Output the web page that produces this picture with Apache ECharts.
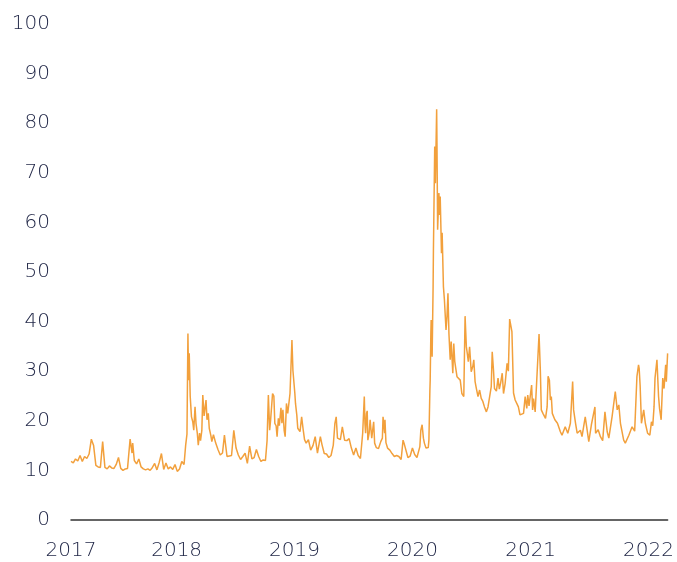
<!DOCTYPE html>
<html>
<head>
<meta charset="utf-8">
<script src="https://cdn.jsdelivr.net/npm/echarts@6/dist/echarts.min.js"></script>
<style>
html,body{margin:0;padding:0;background:#fff;}
#chart{width:677px;height:562px;}
</style>
</head>
<body>
<div id="chart"></div>
<script>
// ---- Data (VIX index) ----
const dates2017 = [
'2017-02-08','2017-02-15','2017-02-22','2017-03-01','2017-03-08','2017-03-15','2017-03-22','2017-03-29',
'2017-04-05','2017-04-12','2017-04-19','2017-04-26','2017-05-03','2017-05-10','2017-05-17','2017-05-24','2017-05-31',
'2017-06-07','2017-06-14','2017-06-21','2017-06-28','2017-07-05','2017-07-12','2017-07-19','2017-07-26',
'2017-08-02','2017-08-10','2017-08-16','2017-08-18','2017-08-23','2017-08-30',
'2017-09-06','2017-09-13','2017-09-20','2017-09-27','2017-10-04','2017-10-11','2017-10-18','2017-10-25',
'2017-11-01','2017-11-08','2017-11-15','2017-11-22','2017-11-29','2017-12-06','2017-12-13','2017-12-20','2017-12-27'];
const vix2017 = [
11.8,11.5,12.3,11.9,13.0,11.8,12.8,12.4,
13.3,16.3,15.0,11.0,10.7,10.6,15.8,10.6,10.3,
10.9,10.5,10.4,11.2,12.6,10.4,10.0,10.3,
10.4,16.3,13.5,15.5,12.0,11.3,
12.3,10.7,10.3,10.1,10.3,10.0,10.6,11.4,
10.1,11.6,13.4,10.2,11.5,10.3,10.7,10.2,11.2];

const dates2018 = [
'2018-01-03','2018-01-10','2018-01-17','2018-01-24','2018-01-29','2018-02-02','2018-02-05','2018-02-07','2018-02-09','2018-02-12','2018-02-16','2018-02-20','2018-02-23','2018-02-27',
'2018-03-02','2018-03-06','2018-03-09','2018-03-13','2018-03-16','2018-03-20','2018-03-23','2018-03-27','2018-04-02','2018-04-05','2018-04-09','2018-04-12','2018-04-17','2018-04-20','2018-04-25',
'2018-05-02','2018-05-09','2018-05-16','2018-05-23','2018-05-29','2018-06-06','2018-06-13','2018-06-20','2018-06-27','2018-07-04','2018-07-11','2018-07-18','2018-07-25',
'2018-08-01','2018-08-08','2018-08-15','2018-08-22','2018-08-29','2018-09-05','2018-09-12','2018-09-19','2018-09-26','2018-10-03','2018-10-08','2018-10-12','2018-10-16','2018-10-19','2018-10-25','2018-10-29',
'2018-11-01','2018-11-05','2018-11-08','2018-11-12','2018-11-15','2018-11-20','2018-11-23','2018-11-26','2018-11-30','2018-12-03','2018-12-07','2018-12-11','2018-12-14','2018-12-18','2018-12-24','2018-12-27'];
const vix2018 = [
9.8,10.3,11.8,11.2,15.1,17.3,37.6,28.2,33.6,25.0,20.8,19.8,18.1,22.8,
19.5,17.5,15.1,17.5,16.0,18.0,25.2,21.0,24.2,20.2,21.5,18.5,17.0,15.8,17.2,
15.5,14.2,13.1,13.5,17.1,12.8,12.9,13.0,18.1,14.5,13.1,12.2,12.8,
13.5,11.4,14.9,12.3,12.6,14.2,12.8,11.8,12.1,12.0,16.0,25.2,18.1,20.2,25.5,25.0,
19.5,19.0,16.8,20.5,19.0,22.6,19.5,22.2,18.0,16.8,23.5,21.5,21.6,25.5,36.3,30.2];

const dates2019 = [
'2019-01-02','2019-01-04','2019-01-08','2019-01-11','2019-01-15','2019-01-18','2019-01-23','2019-01-28','2019-02-01','2019-02-06','2019-02-13','2019-02-20','2019-02-27',
'2019-03-06','2019-03-13','2019-03-22','2019-03-27','2019-04-03','2019-04-10','2019-04-17','2019-04-24','2019-05-01','2019-05-06','2019-05-10','2019-05-14','2019-05-17','2019-05-23','2019-05-29',
'2019-06-05','2019-06-12','2019-06-19','2019-06-26','2019-07-03','2019-07-10','2019-07-17','2019-07-24','2019-07-31','2019-08-05','2019-08-07','2019-08-09','2019-08-12','2019-08-14','2019-08-16','2019-08-20','2019-08-23','2019-08-28',
'2019-09-03','2019-09-06','2019-09-11','2019-09-18','2019-09-25','2019-09-30','2019-10-02','2019-10-07','2019-10-08','2019-10-11','2019-10-16','2019-10-23','2019-10-30',
'2019-11-06','2019-11-13','2019-11-20','2019-11-27','2019-12-03','2019-12-06','2019-12-11','2019-12-18','2019-12-25'];
const vix2019 = [
25.5,23.5,21.2,18.5,18.8,17.8,20.8,18.1,16.2,15.5,16.2,14.1,15.0,
16.8,13.5,16.8,15.2,13.4,13.3,12.6,13.0,15.1,19.5,20.8,16.5,16.8,16.2,18.8,
16.1,16.0,16.4,14.5,13.1,14.5,13.0,12.4,17.5,24.9,19.5,17.5,21.5,22.0,16.1,17.5,20.2,16.5,
19.8,15.5,14.6,14.4,15.8,16.5,20.8,17.5,20.2,15.6,14.5,14.1,13.4,
12.8,13.0,12.8,12.2,16.1,15.5,15.3,12.6,12.9];

const dates2020 = [
'2020-01-01','2020-01-03','2020-01-08','2020-01-15','2020-01-21','2020-01-24','2020-01-27','2020-01-31','2020-02-04','2020-02-07','2020-02-12','2020-02-14','2020-02-19','2020-02-21',
'2020-02-24','2020-02-25','2020-02-27','2020-02-28','2020-03-02','2020-03-05','2020-03-06','2020-03-10','2020-03-12','2020-03-16','2020-03-17','2020-03-19','2020-03-23','2020-03-25','2020-03-27','2020-03-31',
'2020-04-02','2020-04-06','2020-04-09','2020-04-14','2020-04-17','2020-04-20','2020-04-23','2020-04-27','2020-04-30','2020-05-05','2020-05-08','2020-05-11','2020-05-15','2020-05-18','2020-05-22','2020-05-28',
'2020-06-02','2020-06-08','2020-06-12','2020-06-16','2020-06-19','2020-06-22','2020-06-26','2020-07-01','2020-07-06','2020-07-09','2020-07-13','2020-07-17','2020-07-22','2020-07-27',
'2020-08-01','2020-08-06','2020-08-11','2020-08-17','2020-08-22','2020-08-27','2020-09-01','2020-09-04','2020-09-08','2020-09-11','2020-09-17','2020-09-22','2020-09-26','2020-09-30',
'2020-10-05','2020-10-09','2020-10-14','2020-10-20','2020-10-24','2020-10-28','2020-11-04','2020-11-09','2020-11-14','2020-11-19','2020-11-24','2020-11-29','2020-12-04','2020-12-10','2020-12-15','2020-12-20','2020-12-23','2020-12-27'];
const vix2020 = [
14.5,14.8,13.2,12.6,12.4,14.8,18.1,19.2,16.5,15.5,14.5,14.1,14.6,16.1,
26.0,28.2,37.5,40.3,32.9,47.0,54.4,75.3,67.9,82.8,76.0,58.5,65.9,61.5,65.2,53.8,
57.9,47.0,44.4,38.3,41.0,45.7,37.6,32.3,36.0,29.6,35.6,32.0,32.3,28.9,28.5,28.2,
25.5,24.9,41.1,34.9,33.5,31.9,34.9,29.9,31.0,32.3,27.9,26.5,24.9,26.2,
24.5,23.9,22.8,21.8,22.8,22.8,26.9,33.9,30.2,26.5,26.0,28.6,26.4,27.6,
29.6,25.5,27.5,31.6,30.0,40.5,38.0,25.6,24.2,23.5,22.8,21.2,21.0,21.5,24.9,22.5,25.2,23.0];

const dates2021 = [
'2021-01-04','2021-01-07','2021-01-10','2021-01-15','2021-01-21','2021-01-27','2021-01-31','2021-02-03','2021-02-08','2021-02-16','2021-02-21','2021-02-24','2021-02-28',
'2021-03-03','2021-03-06','2021-03-09','2021-03-17','2021-03-25','2021-04-03','2021-04-08','2021-04-18','2021-04-26','2021-05-04','2021-05-11','2021-05-14','2021-05-20','2021-05-25',
'2021-06-04','2021-06-09','2021-06-19','2021-06-30','2021-07-08','2021-07-19','2021-07-21','2021-07-29','2021-08-05','2021-08-12','2021-08-19','2021-08-26','2021-08-31',
'2021-09-10','2021-09-20','2021-09-26','2021-10-01','2021-10-06','2021-10-16','2021-10-21','2021-11-01','2021-11-11','2021-11-19','2021-11-26','2021-12-01','2021-12-03','2021-12-06','2021-12-10','2021-12-17','2021-12-22','2021-12-29'];
const vix2021 = [
27.2,22.2,24.5,21.8,22.0,37.5,30.2,22.2,21.5,20.5,22.8,29.0,28.2,
24.2,24.9,21.5,20.2,19.5,17.8,17.1,18.8,17.5,19.5,27.9,22.2,19.5,17.5,
18.1,16.8,20.8,15.8,19.2,22.8,17.5,18.2,16.8,16.0,21.8,17.8,16.5,
20.8,25.9,22.2,23.2,19.5,16.1,15.5,17.1,18.8,17.9,28.9,31.3,30.5,27.0,19.5,22.2,19.5,17.5];

const dates2022 = [
'2022-01-05','2022-01-10','2022-01-14','2022-01-18','2022-01-21','2022-01-27','2022-02-01','2022-02-04','2022-02-09','2022-02-14','2022-02-18','2022-02-23','2022-02-25','2022-03-01'];
const vix2022 = [
17.1,19.8,19.0,22.8,28.6,32.3,24.9,22.5,20.2,28.6,26.5,31.3,27.9,33.6];

// axis ticks
const xTickDates = ['2017-02-08','2018-01-01','2019-01-01','2020-01-01','2021-01-01','2022-01-01'];
const xTickLabels = ['2017','2018','2019','2020','2021','2022'];
const yTicks = [0,10,20,30,40,50,60,70,80,90,100];

// ---- Build series ----
const toTime = d => echarts.time.parse(d).getTime();
const allDates = [].concat(dates2017, dates2018, dates2019, dates2020, dates2021, dates2022);
const allVix = [].concat(vix2017, vix2018, vix2019, vix2020, vix2021, vix2022);
const seriesData = allDates.map((d, i) => [toTime(d), allVix[i]]);
const tickTimes = xTickDates.map(toTime);

const chart = echarts.init(document.getElementById('chart'), null, {renderer: 'canvas'});
const labelFont = {color: '#222848', fontSize: 20, fontFamily: 'DejaVu Sans', fontWeight: 200};
chart.setOption({
  animation: false,
  backgroundColor: '#ffffff',
  grid: {left: 71, right: 9, top: 24, bottom: 42, containLabel: false},
  xAxis: {
    type: 'value',
    min: tickTimes[0],
    max: toTime(dates2022[dates2022.length - 1]),
    axisLine: {show: true, onZero: false, lineStyle: {color: '#333333', width: 1.5}},
    axisTick: {show: false},
    splitLine: {show: false},
    axisLabel: Object.assign({
      margin: 21,
      customValues: tickTimes,
      formatter: function (v) {
        let best = 0, bd = Infinity;
        tickTimes.forEach((t, i) => { const dd = Math.abs(t - v); if (dd < bd) { bd = dd; best = i; } });
        return xTickLabels[best];
      }
    }, labelFont)
  },
  yAxis: {
    type: 'value',
    min: yTicks[0],
    max: yTicks[yTicks.length - 1],
    interval: 10,
    axisLine: {show: false},
    axisTick: {show: false},
    splitLine: {show: false},
    axisLabel: Object.assign({margin: 21, padding: [5, 0, 0, 0]}, labelFont)
  },
  series: [{
    type: 'line',
    data: seriesData,
    showSymbol: false,
    symbol: 'none',
    lineStyle: {color: '#F2A03C', width: 1.5},
    itemStyle: {color: '#F2A03C'},
    z: 3
  }]
});
</script>
</body>
</html>
